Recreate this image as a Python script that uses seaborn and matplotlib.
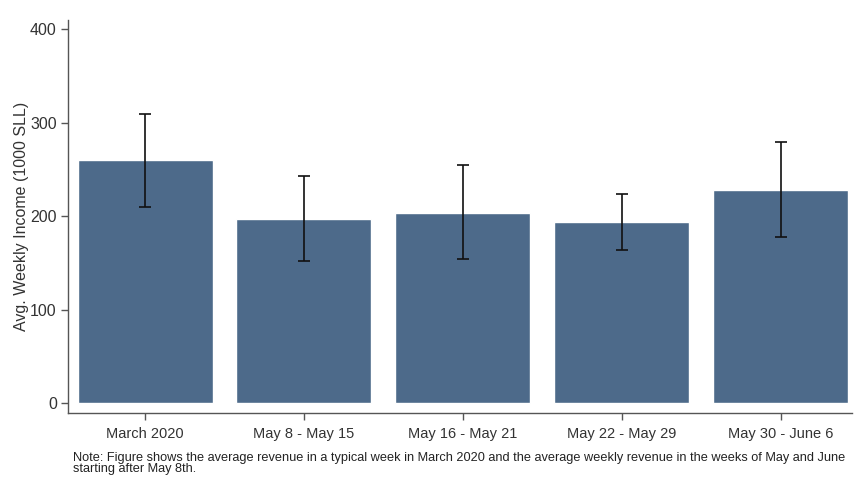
import numpy as np
import pandas as pd
import matplotlib
matplotlib.use('Agg')
import matplotlib.pyplot as plt
import seaborn as sns

# data
periods = ['March 2020', 'May 8 - May 15', 'May 16 - May 21', 'May 22 - May 29', 'May 30 - June 6']
income = [260, 197, 204, 194, 228]
ci_low = [210, 152, 154, 164, 178]
ci_high = [310, 243, 255, 224, 280]

df = pd.DataFrame({'period': periods, 'income': income, 'lo': ci_low, 'hi': ci_high})

sns.set_style('white')
plt.rcParams['font.family'] = ['Liberation Sans', 'DejaVu Sans']

fig = plt.figure(figsize=(8.67, 4.8), dpi=100)
ax = fig.add_axes([0.0784, 0.1396, 0.9043, 0.8184])

sns.barplot(data=df, x='period', y='income', color='#4d6a8a', saturation=1,
            width=0.85, errorbar=None, ax=ax)
ax.errorbar(np.arange(len(df)), df['income'],
            yerr=[df['income'] - df['lo'], df['hi'] - df['income']],
            fmt='none', ecolor='#111111', elinewidth=1.2, capsize=4, capthick=1.2)

ax.set_xlim(-0.485, 4.45)
ax.set_ylim(-10.7, 410)
ax.set_yticks([0, 100, 200, 300, 400])
ax.set_xlabel('')
ax.set_ylabel('Avg. Weekly Income (1000 SLL)', fontsize=11.5, color='#333333', labelpad=1)

for s in ['top', 'right']:
    ax.spines[s].set_visible(False)
for s in ['left', 'bottom']:
    ax.spines[s].set_color('#555555')
    ax.spines[s].set_linewidth(1.0)
ax.tick_params(axis='both', which='both', length=5, width=1, color='#555555',
               labelcolor='#333333', left=True, bottom=True)
ax.tick_params(axis='x', labelsize=10.5, pad=5)
ax.tick_params(axis='y', labelsize=11.5, pad=3)

fig.text(0.084, 0.058, 'Note: Figure shows the average revenue in a typical week in March 2020 and the average weekly revenue in the weeks of May and June\nstarting after May 8th.',
         fontsize=9.15, color='#222222', va='top', ha='left', linespacing=0.92)

fig.savefig('out.png', dpi=100)
plt.close()
